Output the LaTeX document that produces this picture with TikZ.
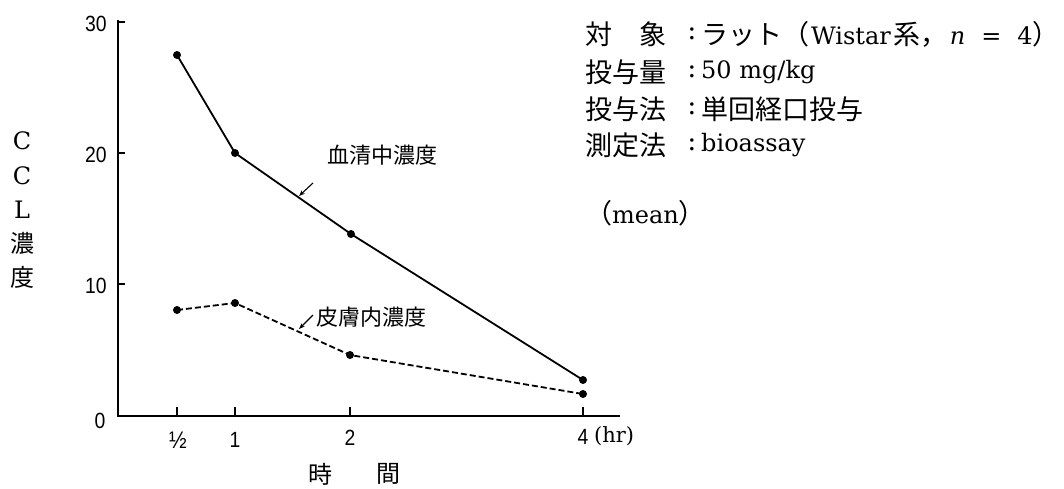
\documentclass[tikz,border=0pt]{standalone}
\usepackage{fontspec}
\usetikzlibrary{arrows.meta}
\newfontfamily\cjk{Noto Sans CJK JP}
\newfontfamily\lat{DejaVu Serif}
\newfontfamily\numf{Liberation Sans}[FakeStretch=0.88]
\begin{document}
\begin{tikzpicture}[x=1pt,y=-1pt,
  axisline/.style={line width=1.6pt},
  tickline/.style={line width=1.3pt},
  serum/.style={line width=1.8pt},
  skin/.style={line width=1.8pt,dash pattern=on 6pt off 3pt},
  dot/.style={circle,fill=black,inner sep=0pt,minimum size=8pt},
  ticklab/.style={font=\fontsize{22}{24}\selectfont\numf,inner sep=0pt},
  chartlab/.style={font=\fontsize{22}{24}\selectfont\cjk,inner sep=0pt},
  ylab/.style={font=\fontsize{24}{26}\selectfont\lat,inner sep=0pt},
  ycjk/.style={font=\fontsize{24}{26}\selectfont\cjk,inner sep=0pt},
  info/.style={font=\fontsize{27}{30}\selectfont,inner sep=0pt,anchor=west},
  infolat/.style={font=\fontsize{24}{30}\selectfont\lat,inner sep=0pt,anchor=west},
  leader/.style={line width=1.1pt,-{Stealth[length=6pt,width=4.5pt]}}
]
\useasboundingbox (0,0) rectangle (1064,488);
% axes
\coordinate (ytop) at (118,20);
\coordinate (orig) at (118,416);
\coordinate (xend) at (620,416);
\draw[axisline] (ytop) -- (orig) -- (xend);
% y ticks
\foreach \yy/\lab in {22/30,153/20,284/10}{
  \draw[tickline] (118,\yy) -- (125,\yy);
  \node[ticklab] at (96,\yy+2) {\lab};
}
\node[ticklab] (l0) at (100,421) {0};
% x ticks
\foreach \xx in {177,235,350,583}{
  \draw[tickline] (\xx,416) -- (\xx,407);
}
\node[ticklab,font=\fontsize{24}{26}\selectfont\numf] (lh) at (178,440) {½};
\node[ticklab] (l1) at (235,440) {1};
\node[ticklab] (l2) at (350,438) {2};
\node[ticklab] (l4) at (583,437) {4};
\node[font=\fontsize{21}{23}\selectfont\lat,inner sep=0pt,anchor=west] (hr) at (594,436) {(hr)};
% data: serum
\node[dot] (s1) at (177,55) {};
\node[dot] (s2) at (235,153) {};
\node[dot] (s3) at (351,234) {};
\node[dot] (s4) at (583,380) {};
\draw[serum] (s1.center) -- (s2.center) -- (s3.center) -- (s4.center);
% data: skin
\node[dot] (k1) at (177,310) {};
\node[dot] (k2) at (235,303) {};
\node[dot] (k3) at (350,355) {};
\node[dot] (k4) at (583,394) {};
\draw[skin] (k1.center) -- (k2.center) -- (k3.center) -- (k4.center);
% curve labels
\node[chartlab] (serumlab) at (382,155) {血清中濃度};
\node[chartlab] (skinlab) at (371,317) {皮膚内濃度};
\coordinate (sa) at (313,183);
\coordinate (sb) at (299,196);
\coordinate (ka) at (313,315);
\coordinate (kb) at (299,329);
\draw[leader] (sa) -- (sb);
\draw[leader] (ka) -- (kb);
% y axis label
\node[ylab] (yc1) at (22,141) {C};
\node[ylab] (yc2) at (22,176) {C};
\node[ylab] (yl) at (22,210) {L};
\node[ycjk] (yn) at (22,243) {濃};
\node[ycjk] (yd) at (22,277) {度};
% x axis label
\node[chartlab,font=\fontsize{24}{26}\selectfont\cjk] (xt1) at (320,474) {時};
\node[chartlab,font=\fontsize{24}{26}\selectfont\cjk] (xt2) at (388,474) {間};
% info block
\node[info] (i1a) at (585,34) {\cjk 対　象};
\node[info,anchor=center] (i1c) at (692,34) {\lat :};
\node[info] (i1b) at (701,34) {{\cjk ラット（}\hspace{2pt}{\fontsize{24}{30}\selectfont\lat Wistar}\hspace{3pt}{\cjk 系，}\hspace{2pt}{\fontsize{24}{30}\selectfont\lat\itshape n}\hspace{16pt}{\fontsize{24}{30}\selectfont\lat =}\hspace{16pt}{\fontsize{24}{30}\selectfont\lat 4}{\cjk ）}};
\node[info] (i2a) at (585,72) {\cjk 投与量};
\node[info,anchor=center] (i2c) at (692,72) {\lat :};
\node[infolat] (i2b) at (701,72) {50 mg/kg};
\node[info] (i3a) at (585,109) {\cjk 投与法};
\node[info,anchor=center] (i3c) at (692,109) {\lat :};
\node[info] (i3b) at (701,109) {\cjk 単回経口投与};
\node[info] (i4a) at (585,145) {\cjk 測定法};
\node[info,anchor=center] (i4c) at (692,145) {\lat :};
\node[infolat] (i4b) at (701,145) {bioassay};
\node[info] (i5) at (585,213) {{\cjk （}{\fontsize{24}{30}\selectfont\lat mean}{\cjk ）}};
\end{tikzpicture}
\end{document}
